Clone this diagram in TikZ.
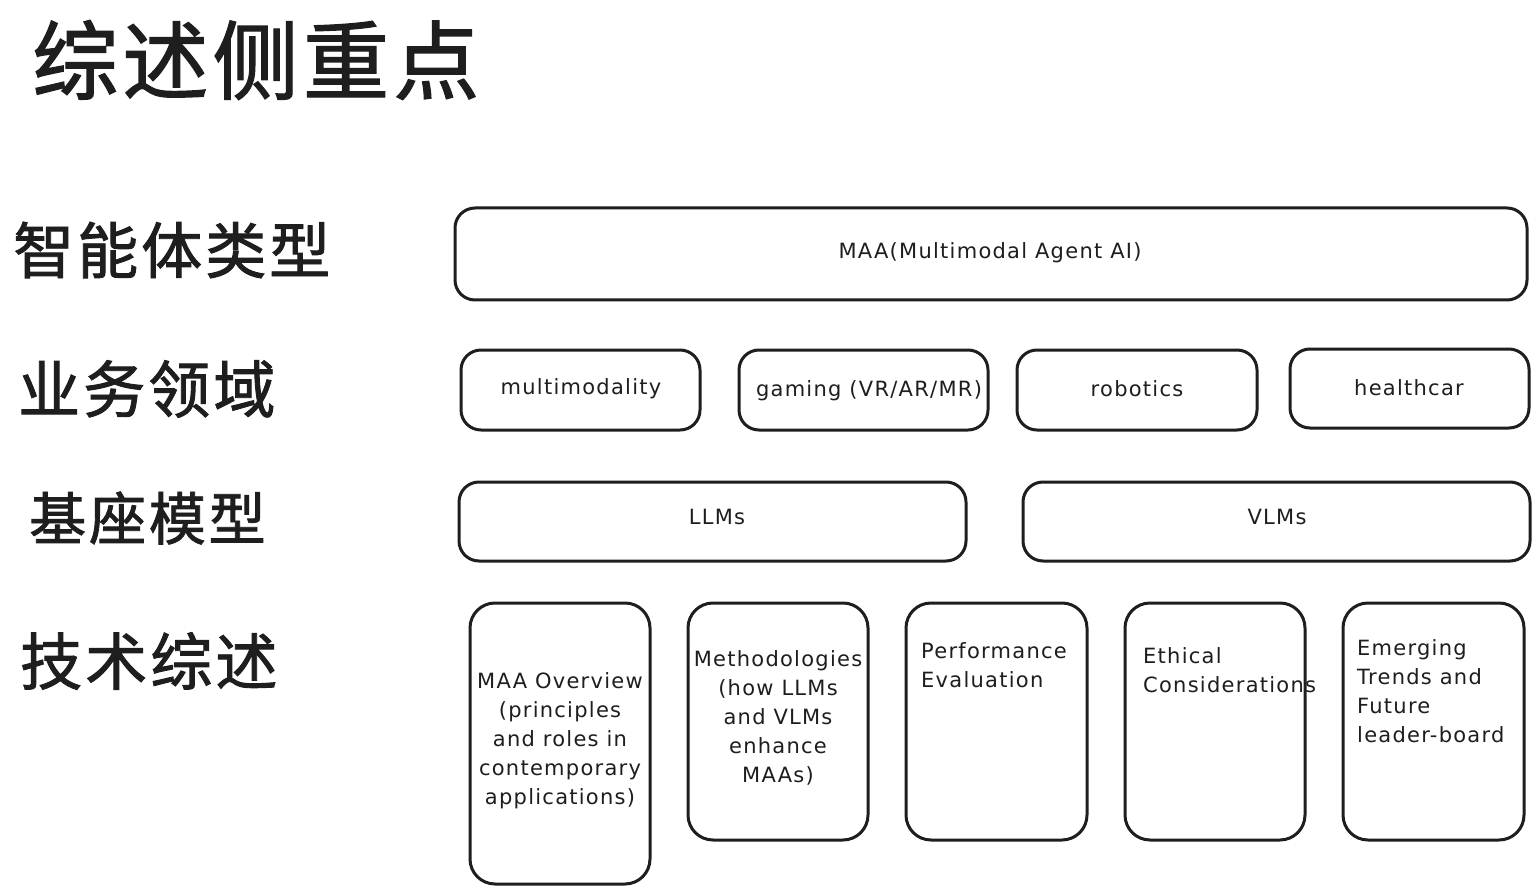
\documentclass[tikz,border=0pt]{standalone}
\usepackage{fontspec}
\setmainfont{DejaVu Sans}[LetterSpace=6]
\newfontfamily\cjk{Noto Sans CJK SC}[LetterSpace=5,FakeBold=1.5]
\definecolor{ink}{HTML}{1E1E1E}
\begin{document}
\begin{tikzpicture}[x=1pt,y=-1pt,
  box/.style={draw=ink, line width=3pt, rounded corners=20pt, inner sep=0pt},
  txt/.style={text=ink, font=\fontsize{21}{29}\selectfont, inner sep=0pt},
  cjkl/.style={text=ink, anchor=west, inner sep=0pt}]
\useasboundingbox[fill=white] (0,0) rectangle (1539,893);
% headings
\node[cjkl, font=\cjk\fontsize{86}{86}\selectfont] (title) at (32,60) {综述侧重点};
\node[cjkl, font=\cjk\fontsize{61}{61}\selectfont] (h1) at (13,250) {智能体类型};
\node[cjkl, font=\cjk\fontsize{62}{62}\selectfont] (h2) at (18,389) {业务领域};
\node[cjkl, font=\cjk\fontsize{57}{57}\selectfont] (h3) at (29,518) {基座模型};
\node[cjkl, font=\cjk\fontsize{62}{62}\selectfont] (h4) at (20,661) {技术综述};
% row 1
\node[box, minimum width=1072pt, minimum height=92pt] (maa) at (991,254) {};
\node[txt] (maat) at (990,253) {MAA(Multimodal Agent AI)};
% row 2
\node[box, minimum width=239pt, minimum height=80pt] (mm) at (580.5,390) {};
\node[txt] at (581,389) {multimodality};
\node[box, minimum width=249pt, minimum height=80pt] (gm) at (863.5,390) {};
\node[txt] at (869,391) {gaming (VR/AR/MR)};
\node[box, minimum width=240pt, minimum height=80pt] (rb) at (1137,390) {};
\node[txt] at (1137,389) {robotics};
\node[box, minimum width=239pt, minimum height=79pt] (hc) at (1409.5,388.5) {};
\node[txt] at (1409,388) {healthcar};
% row 3
\node[box, minimum width=507pt, minimum height=79pt] (llm) at (712.5,521.5) {};
\node[txt] at (717,517) {LLMs};
\node[box, minimum width=507pt, minimum height=79pt] (vlm) at (1276.5,521.5) {};
\node[txt] at (1277,517) {VLMs};
% row 4
\node[box, rounded corners=25pt, minimum width=180pt, minimum height=281pt] (ov) at (560,743.5) {};
\node[txt, align=center, anchor=north] at (560,672) {MAA Overview\\(principles\\and roles in\\contemporary\\applications)};
\node[box, rounded corners=25pt, minimum width=180pt, minimum height=237pt] (me) at (778,721.5) {};
\node[txt, align=center, anchor=north] at (778,650) {Methodologies\\(how LLMs\\and VLMs\\enhance\\MAAs)};
\node[box, rounded corners=25pt, minimum width=181pt, minimum height=237pt] (pe) at (996.5,721.5) {};
\node[txt, align=left, anchor=north west] at (921,642) {Performance\\Evaluation};
\node[box, rounded corners=25pt, minimum width=180pt, minimum height=237pt] (et) at (1215,721.5) {};
\node[txt, align=left, anchor=north west] at (1143,647) {Ethical\\Considerations};
\node[box, rounded corners=25pt, minimum width=181pt, minimum height=237pt] (em) at (1433.5,721.5) {};
\node[txt, align=left, anchor=north west] at (1357,639) {Emerging\\Trends and\\Future\\leader-board};
\end{tikzpicture}
\end{document}
